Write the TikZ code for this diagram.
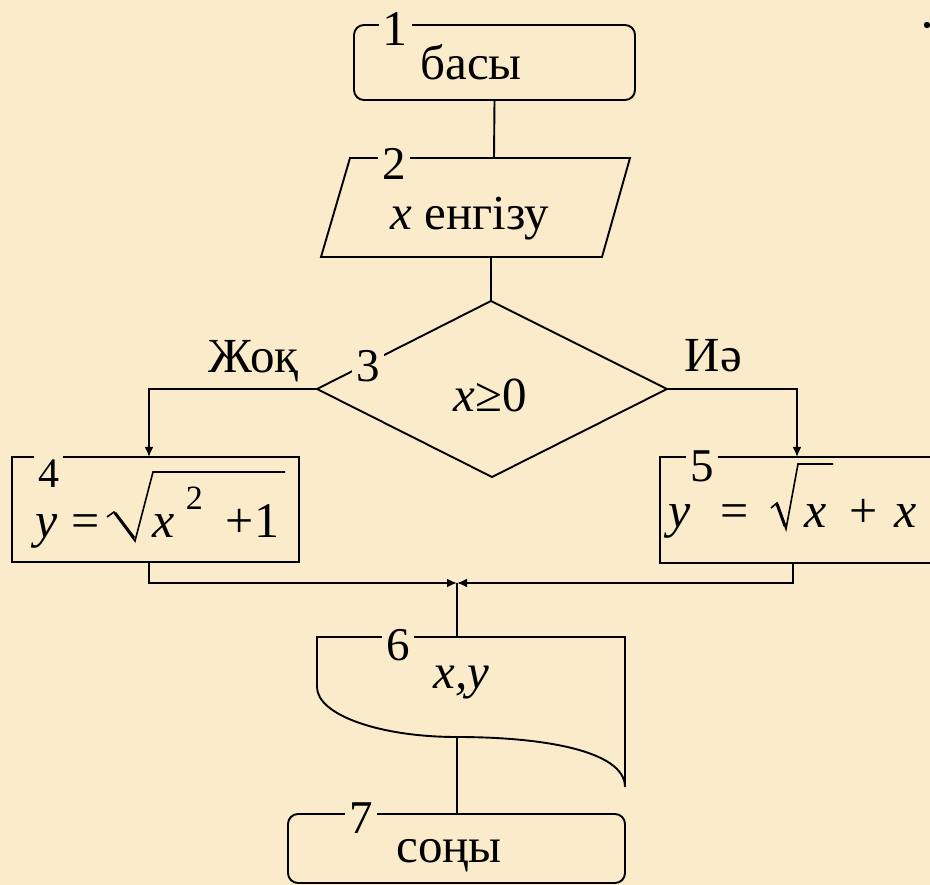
\documentclass[tikz,border=0pt]{standalone}
\usepackage{fontspec}
\setmainfont{Liberation Serif}
\usetikzlibrary{arrows.meta}
\definecolor{bg}{RGB}{250,236,203}
\begin{document}
\begin{tikzpicture}[x=1pt,y=-1pt,
  line width=1.9pt, line join=miter,
  shp/.style={draw,line width=1.9pt},
  termbox/.style={shp,rounded corners=10pt,inner sep=0pt},
  procbox/.style={shp,inner sep=0pt},
  conn/.style={line width=1.9pt},
  arr/.style={conn,-{Latex[length=10pt,width=9pt]}},
  numlbl/.style={fill=bg,inner xsep=4pt,inner ysep=7pt,font=\fontsize{47}{47}\selectfont,anchor=base},
  txt/.style={inner sep=0pt,font=\fontsize{49}{49}\selectfont,anchor=base},
  eqi/.style={inner sep=0pt,font=\fontsize{50}{50}\selectfont\itshape,anchor=base west},
  equ/.style={inner sep=0pt,font=\fontsize{50}{50}\selectfont,anchor=base west},
  supscr/.style={inner sep=0pt,font=\fontsize{34}{34}\selectfont,anchor=base west},
]
\fill[bg] (0,0) rectangle (930,885);
\path[use as bounding box] (0,0) rectangle (930,885);
\clip (0,0) rectangle (930,885);

% ---------- shapes ----------
% 1 start
\node[termbox,minimum width=281pt,minimum height=75pt] (n1) at (494.5,62.5) {};
% 2 input (parallelogram)
\coordinate (p2a) at (350,158);
\coordinate (p2b) at (630,158);
\coordinate (p2c) at (602,257);
\coordinate (p2d) at (321,257);
\coordinate (n2top) at (494,158);
\coordinate (n2bot) at (491,257);
\draw[shp] (p2a) -- (p2b) -- (p2c) -- (p2d) -- cycle;
% 3 decision (diamond)
\coordinate (d3t) at (491,301);
\coordinate (d3r) at (667,389);
\coordinate (d3b) at (492,477);
\coordinate (d3l) at (317,389);
\draw[shp] (d3t) -- (d3r) -- (d3b) -- (d3l) -- cycle;
% 4 and 5 process boxes
\node[procbox,minimum width=287pt,minimum height=105pt] (n4) at (155.5,509.5) {};
\node[procbox,minimum width=290pt,minimum height=106pt] (n5) at (805,510) {};
% 6 output (document)
\coordinate (n6top) at (457,637);
\coordinate (n6bot) at (457,737);
\draw[shp] (317,687) -- (317,637) -- (625,637) -- (625,787)
  .. controls (625,750) and (540,737) .. (n6bot)
  .. controls (380,737) and (317,715) .. (317,687) -- cycle;
% 7 end
\node[termbox,minimum width=337pt,minimum height=69pt] (n7) at (456.5,848.5) {};

% ---------- connectors ----------
\coordinate (a4) at (149,457);
\coordinate (a5) at (797,457);
\coordinate (o4) at (149,562);
\coordinate (o5) at (793,563);
\coordinate (j) at (457,583);
\draw[conn] (n1.south) -- (n2top);
\draw[conn] (n2bot) -- (d3t);
\draw[arr] (d3l) -| (a4);
\draw[arr] (d3r) -| (a5);
\draw[arr] (o4) |- (j);
\draw[arr] (o5) |- (j);
\draw[conn] (n6top) -- (j);
\draw[conn] (n6bot) -- (457,814) coordinate (n7top);

% ---------- number labels ----------
\node[numlbl,font=\fontsize{50}{50}\selectfont] (l1) at (395,46) {1};
\node[numlbl] (l2) at (394,180) {2};
\node[numlbl] (l3) at (368,382) {3};
\node[numlbl,font=\fontsize{42}{42}\selectfont,inner ysep=10pt] (l4) at (48.5,488) {4};
\node[numlbl] (l5) at (702,482) {5};
\node[numlbl] (l6) at (398,660) {6};
\node[numlbl] (l7) at (361,833) {7};

% ---------- texts ----------
\node[txt] (t1) at (471,80) {басы};
\node[txt] (t2) at (470,230) {\textit{x} енгізу};
\node[txt] (t3) at (490,412) {\textit{x}≥0};
\node[txt] (tno) at (253.5,373) {Жоқ};
\node[txt] (tyes) at (713.5,372) {Иә};
\node[txt] (t6) at (461.5,688) {\textit{x,y}};
\node[txt] (t7) at (449,862) {соңы};

% equation in box 4
\node[eqi] (e4y) at (35,537) {y};
\node[equ] (e4eq) at (71,537) {=};
\draw[line width=1.6pt] (107,517) -- (114,512) -- (135,541) -- (153,472) -- (285,472);
\draw[line width=3pt] (115,513) -- (134,538);
\node[eqi] (e4x) at (152,537) {x};
\node[supscr] (e4s) at (185,510) {2};
\node[equ] (e4p) at (225,537) {+1};

% equation in box 5
\node[eqi] (e5y) at (668,527) {y};
\node[equ] (e5eq) at (720,527) {=};
\draw[line width=1.6pt] (771,508) -- (777,503) -- (786,529) -- (798,464) -- (833,464);
\draw[line width=3pt] (777,504) -- (785,526);
\node[eqi] (e5x) at (804,527) {x};
\node[equ] (e5p) at (849,527) {+};
\node[eqi] (e5x2) at (894,527) {x};

% dot
\fill (927,25) circle (3.2pt);
\end{tikzpicture}
\end{document}
